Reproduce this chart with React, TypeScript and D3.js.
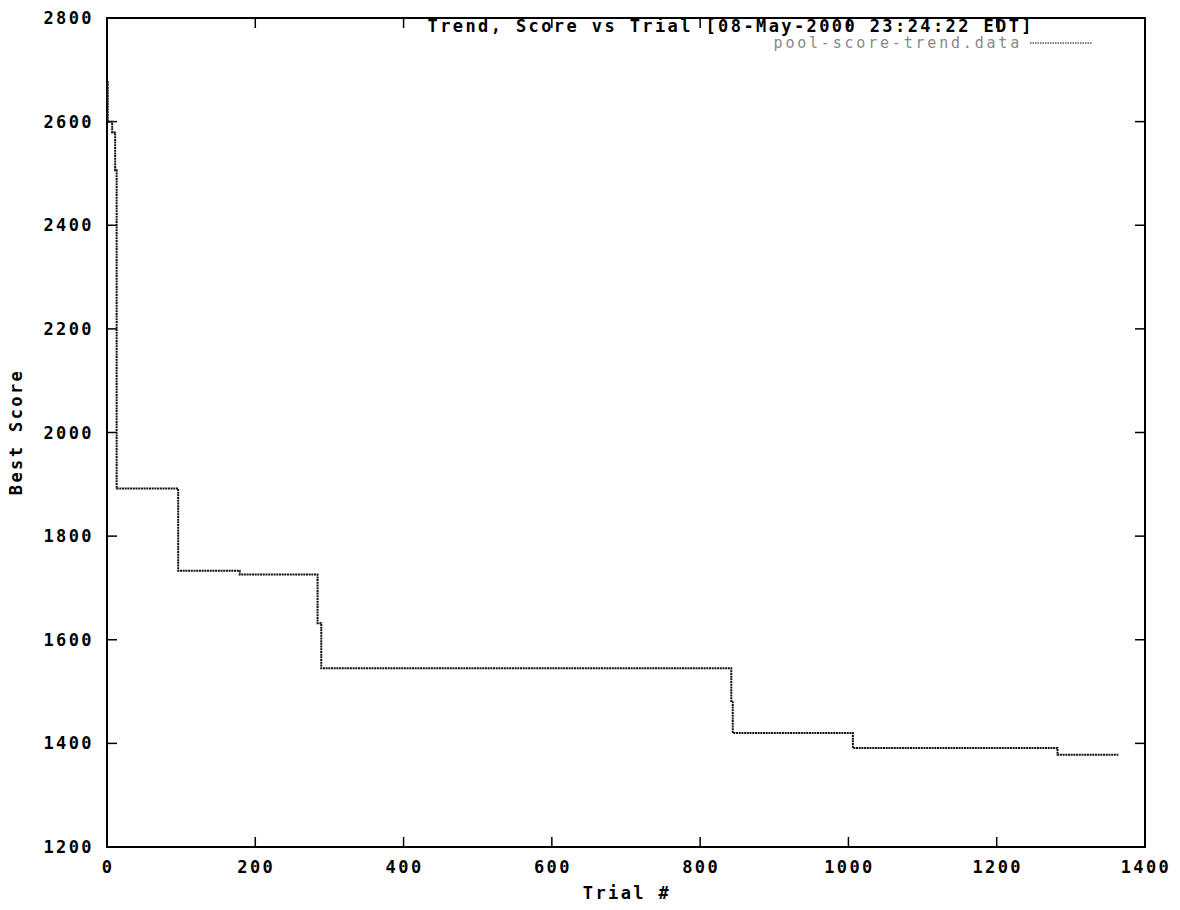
import React from "react";
import * as d3 from "d3";

const trials = [0, 1, 7, 11, 13, 96, 179, 284, 289, 842, 844, 1006, 1282, 1364];
const scores = [2676, 2600, 2579, 2506, 1892, 1733, 1726, 1632, 1545, 1482, 1420, 1391, 1378, 1378];
const xTicks = [0, 200, 400, 600, 800, 1000, 1200, 1400];
const yTicks = [1200, 1400, 1600, 1800, 2000, 2200, 2400, 2600, 2800];
const titleText = "Trend, Score vs Trial [08-May-2000 23:24:22 EDT]";
const legendText = "pool-score-trend.data";

const W = 1180, H = 910;
const L = 107, R = 1145, T = 18, B = 847;
const FONT = "'DejaVu Sans Mono', monospace";

export default function App() {
  const x = d3.scaleLinear().domain([0, 1400]).range([L, R]);
  const y = d3.scaleLinear().domain([1200, 2800]).range([B, T]);
  const pts = trials.map((t, i) => [t, scores[i]] as [number, number]);
  const line = d3.line<[number, number]>().x(d => x(d[0])).y(d => y(d[1])).curve(d3.curveStepAfter);
  const tl = 10;
  const textStyle = { fontFamily: FONT, fontSize: 17, letterSpacing: 2.4, fontWeight: 600 } as const;
  return (
    <svg width={W} height={H} style={{ position: "absolute", left: 0, top: 0, background: "#fff" }}>
      <rect x={0} y={0} width={W} height={H} fill="#fff" />
      <rect x={L} y={T} width={R - L} height={B - T} fill="none" stroke="#000" strokeWidth={2} />
      {xTicks.map(v => (
        <g key={"x" + v}>
          <line x1={x(v)} x2={x(v)} y1={B} y2={B - tl} stroke="#000" strokeWidth={1.5} />
          <line x1={x(v)} x2={x(v)} y1={T} y2={T + tl} stroke="#000" strokeWidth={1.5} />
          <text x={x(v) + 1} y={873} textAnchor="middle" fill="#000" style={textStyle}>{v}</text>
        </g>
      ))}
      {yTicks.map(v => (
        <g key={"y" + v}>
          <line x1={L} x2={L + tl} y1={y(v)} y2={y(v)} stroke="#000" strokeWidth={1.5} />
          <line x1={R} x2={R - tl} y1={y(v)} y2={y(v)} stroke="#000" strokeWidth={1.5} />
          <text x={94} y={y(v) + 6} textAnchor="end" fill="#000" style={textStyle}>{v}</text>
        </g>
      ))}
      <text x={627} y={899} textAnchor="middle" fill="#000" style={textStyle}>Trial #</text>
      <text transform={`translate(22,432) rotate(-90)`} textAnchor="middle" fill="#000" style={textStyle}>Best Score</text>
      <text x={1034} y={32} textAnchor="end" fill="#000" style={textStyle}>{titleText}</text>
      <text x={1022} y={48} textAnchor="end" fill="#888" style={{ fontFamily: FONT, fontSize: 15, letterSpacing: 2.8 }}>{legendText}</text>
      <line x1={1030} x2={1092} y1={43} y2={43} stroke="#555" strokeWidth={1.5} strokeDasharray="1.5 1" />
      <path d={line(pts) || ""} fill="none" stroke="#111" strokeWidth={2} strokeDasharray="2 0.7" />
    </svg>
  );
}
